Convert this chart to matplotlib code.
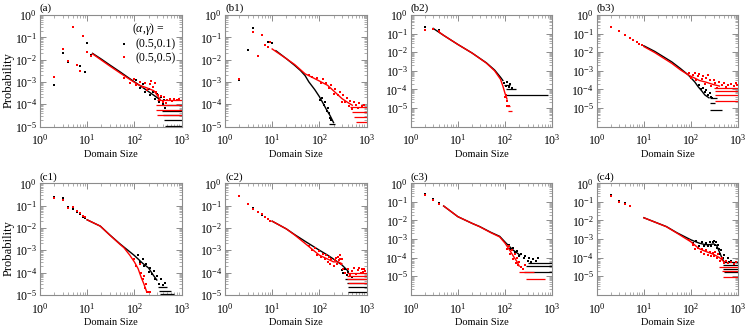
import matplotlib
matplotlib.use("Agg")
import matplotlib.pyplot as plt
from matplotlib.lines import Line2D
from matplotlib.ticker import LogLocator, NullFormatter

plt.rcParams['font.family'] = ['Liberation Serif', 'DejaVu Serif']
plt.rcParams['mathtext.fontset'] = 'custom'
plt.rcParams['mathtext.rm'] = 'Liberation Serif'
plt.rcParams['mathtext.it'] = 'Liberation Serif:italic'

# ---- data: (size, probability) points, trend lines, tail bands (level, from, to)
a_black_dots = [(2, 7e-4), (3, 1.9e-2), (4, 7.5e-3), (7, 5e-3), (9, 2.8e-3), (10, 5.3e-2), (12, 1.6e-2),
                (110, 1.2e-3), (130, 5.5e-4), (150, 8e-4), (170, 3.5e-4), (200, 5e-4), (220, 2.6e-4),
                (250, 3.6e-4), (280, 1.8e-4), (300, 2.8e-4), (330, 1.2e-4), (360, 2.2e-4), (400, 1e-4),
                (420, 1.6e-4), (450, 7e-5), (480, 1.1e-4)]
a_black_line = [(13, 1.9e-2), (20, 1.05e-2), (30, 5.8e-3), (50, 2.8e-3), (80, 1.4e-3), (120, 7.8e-4),
                (180, 4.3e-4), (260, 2.5e-4), (350, 1.6e-4)]
a_black_bands = [(8.9e-5, 400, 1000), (5.2e-5, 380, 1000), (3.2e-5, 400, 1000), (2e-5, 430, 1000),
                 (1.1e-5, 450, 1000)]
a_red_dots = [(2, 1.6e-3), (3, 3e-2), (4, 9e-3), (5, 0.3), (6, 5.5e-3), (7, 3e-3), (8, 0.11), (10, 2.2e-2),
              (12, 1.4e-2), (60, 1.5e-3), (80, 9e-4), (100, 1.4e-3), (110, 7e-4), (130, 1e-3), (150, 6e-4),
              (170, 9e-4), (190, 4.5e-4), (210, 8e-4), (230, 1.1e-3), (250, 6e-4), (270, 9e-4), (290, 3.5e-4),
              (310, 2.5e-4), (330, 1.5e-4), (370, 2.3e-4), (400, 1.3e-4), (430, 2e-4), (460, 1.1e-4),
              (500, 1.6e-4), (560, 1.8e-4), (620, 1.4e-4), (700, 1.8e-4), (800, 1.5e-4), (900, 1.7e-4)]
a_red_line = [(13, 1.8e-2), (20, 9.5e-3), (30, 5.2e-3), (50, 2.5e-3), (80, 1.3e-3), (120, 7.5e-4),
              (180, 5.5e-4), (260, 4e-4), (350, 1.7e-4)]
a_red_bands = [(1.5e-4, 300, 1000), (9e-5, 290, 1000), (5.3e-5, 290, 1000), (3.2e-5, 300, 1000)]

b1_black_dots = [(2, 1.2e-3), (3, 2.6e-2), (4, 0.25), (8, 6e-2), (10, 5.3e-2),
                 (105, 1.6e-4), (115, 1.9e-4), (125, 9e-5), (135, 1.2e-4), (145, 5e-5), (150, 7e-5),
                 (160, 4e-5), (165, 2.5e-5), (175, 2e-5)]
b1_black_line = [(12, 2.5e-2), (20, 1.1e-2), (30, 5.5e-3), (40, 3.2e-3), (50, 1.9e-3), (60, 1e-3),
                 (80, 4.5e-4), (100, 2.2e-4), (120, 1.1e-4), (140, 6e-5), (170, 3e-5), (200, 1.5e-5)]
b1_black_bands = [(1.3e-5, 160, 210)]
b1_red_dots = [(2, 1.4e-3), (4, 0.18), (5, 1.4e-2), (6, 0.125), (7, 4.5e-2), (8, 3.5e-2), (9, 6.3e-2),
               (60, 2e-3), (70, 1.6e-3), (90, 1.5e-3), (110, 9e-4), (120, 1.3e-3), (140, 9e-4), (160, 5.5e-4),
               (180, 7e-4), (200, 3e-4), (220, 5e-4), (250, 2.5e-4), (270, 3.5e-4), (300, 1.3e-4),
               (320, 2.5e-4), (350, 1.2e-4), (380, 1.9e-4), (420, 8e-5), (450, 1.4e-4), (500, 6e-5),
               (550, 1.2e-4), (600, 9e-5), (650, 7e-5), (700, 1.1e-4), (800, 8e-5), (900, 9e-5)]
b1_red_line = [(10, 3e-2), (20, 1.1e-2), (30, 6e-3), (50, 2.3e-3), (80, 1.4e-3), (100, 1.1e-3),
               (150, 7e-4), (200, 4e-4), (300, 1.8e-4), (400, 1.2e-4), (500, 9e-5)]
b1_red_bands = [(7.5e-5, 450, 1000), (4.5e-5, 500, 1000), (2.7e-5, 550, 1000), (1.6e-5, 600, 1000)]

b2_black_dots = [(2, 0.24), (4, 0.16), (95, 2.2e-4), (105, 1.5e-4), (110, 2.5e-4), (120, 1.4e-4),
                 (130, 2e-4), (140, 1.2e-4)]
b2_black_line = [(3, 0.19), (5, 0.08), (10, 2.6e-2), (20, 9e-3), (40, 2.7e-3), (60, 1.1e-3),
                 (80, 4.5e-4), (90, 3e-4)]
b2_black_bands = [(1.8e-4, 95, 130), (1e-4, 105, 170), (5.2e-5, 100, 800)]
b2_red_dots = [(2, 0.15), (3, 0.17), (4, 0.13), (100, 4e-5), (105, 5e-5), (110, 2.5e-5), (112, 1.3e-5),
               (118, 1.3e-5), (122, 1.2e-5)]
b2_red_line = [(4, 0.12), (5, 0.08), (10, 2.6e-2), (20, 9e-3), (40, 2.6e-3), (60, 1e-3), (80, 3.5e-4),
               (90, 1.5e-4), (100, 6e-5), (110, 3e-5)]
b2_red_bands = [(1.3e-5, 110, 130), (6.8e-6, 115, 140)]

b3_black_dots = [(150, 1.8e-4), (160, 1e-4), (180, 1.2e-4), (200, 7e-5), (210, 9e-5), (230, 5e-5),
                 (250, 6e-5), (260, 4e-5), (280, 3.5e-5)]
b3_black_line = [(10, 2.2e-2), (17, 1.1e-2), (39, 3e-3), (60, 1.3e-3), (87, 6e-4), (120, 2.5e-4),
                 (141, 1.4e-4), (170, 8e-5), (196, 5e-5), (240, 3.5e-5)]
b3_black_bands = [(3.4e-5, 250, 350), (1.9e-5, 250, 330), (8e-6, 250, 450)]
b3_red_dots = [(2, 0.24), (3, 0.13), (4, 8.5e-2), (5, 6e-2), (6, 4.5e-2), (7, 3.5e-2), (8, 2.8e-2),
               (9, 2.3e-2), (90, 8e-4), (100, 4e-4), (110, 6e-4), (120, 8e-4), (130, 3e-4), (140, 5e-4),
               (150, 7e-4), (170, 3.5e-4), (180, 5.5e-4), (200, 2e-4), (210, 4e-4), (230, 6e-4),
               (250, 3e-4), (270, 1.6e-4), (300, 3e-4), (330, 2.2e-4), (360, 1.2e-4), (400, 2.5e-4),
               (450, 1.8e-4), (500, 2.2e-4), (550, 1.3e-4), (600, 1.8e-4), (700, 2e-4), (800, 1.5e-4),
               (900, 2.3e-4), (950, 1.7e-4)]
b3_red_line = [(10, 2e-2), (17, 9.5e-3), (39, 2.5e-3), (60, 1.1e-3), (87, 6e-4), (120, 4e-4),
               (150, 3e-4), (200, 2.5e-4), (300, 1.8e-4), (400, 1.5e-4)]
b3_red_bands = [(1.2e-4, 300, 1000), (7.7e-5, 320, 1000), (4.8e-5, 320, 1000), (2.3e-5, 330, 1000)]

c1_black_dots = [(2, 0.25), (3, 0.22), (4, 9e-2), (5, 7e-2), (6, 5e-2), (7, 4e-2), (8, 3.2e-2), (9, 2.7e-2),
                 (120, 6e-4), (130, 3e-4), (150, 4e-4), (160, 2e-4), (180, 2.5e-4), (200, 1.1e-4),
                 (220, 1.6e-4), (240, 9e-5), (260, 1.2e-4), (280, 5e-5), (300, 7e-5), (330, 3e-5),
                 (360, 5e-5), (400, 2.8e-5), (450, 3.5e-5)]
c1_black_line = [(10, 2.3e-2), (19, 1.2e-2), (30, 4.9e-3), (50, 1.9e-3), (100, 5.8e-4), (150, 2.6e-4),
                 (200, 1.6e-4), (250, 7.8e-5), (300, 4.6e-5)]
c1_black_bands = [(2.3e-5, 320, 500), (1.5e-5, 330, 600), (1.05e-5, 350, 700)]
c1_red_dots = [(2, 0.21), (3, 0.18), (4, 8e-2), (5, 9e-2), (6, 5.5e-2), (7, 4.5e-2), (8, 3.5e-2), (9, 3e-2),
               (100, 4e-4), (110, 2e-4), (130, 2.5e-4), (140, 1e-4), (150, 5e-5), (160, 7e-5), (170, 2e-5),
               (180, 3e-5), (190, 1.4e-5), (200, 1.3e-5), (210, 1.4e-5)]
c1_red_line = [(10, 2.3e-2), (19, 1.2e-2), (30, 4.8e-3), (50, 1.8e-3), (60, 1.3e-3), (80, 6e-4),
               (100, 3e-4), (120, 1.5e-4), (140, 6e-5), (160, 3e-5), (180, 1.5e-5)]
c1_red_bands = []

c2_black_dots = [(2, 0.28), (3, 0.12), (4, 7.5e-2), (5, 5e-2), (6, 3.8e-2), (7, 3e-2), (8, 2.4e-2), (9, 2e-2),
                 (300, 1.3e-4), (320, 1e-4), (350, 1.4e-4), (380, 8e-5), (400, 1.1e-4), (450, 7e-5),
                 (500, 6e-5)]
c2_black_line = [(10, 2e-2), (20, 9e-3), (30, 5e-3), (50, 2.5e-3), (100, 1e-3), (150, 6e-4), (200, 4e-4),
                 (300, 2.2e-4), (400, 1.2e-4)]
c2_black_bands = [(5e-5, 350, 1000), (3.3e-5, 380, 1000), (2.2e-5, 400, 1000), (1.3e-5, 400, 1000)]
c2_red_dots = [(2, 0.26), (3, 0.12), (4, 7e-2), (5, 5e-2), (6, 4e-2), (7, 3.1e-2), (8, 2.5e-2), (9, 2.1e-2),
               (60, 1.5e-3), (70, 1e-3), (80, 1.3e-3), (90, 6e-4), (100, 9e-4), (110, 5e-4), (120, 7e-4),
               (130, 4e-4), (140, 6e-4), (150, 3e-4), (160, 5e-4), (170, 2.5e-4), (180, 4e-4), (200, 2e-4),
               (210, 3.5e-4), (230, 4.5e-4), (240, 2.5e-4), (250, 5e-4), (260, 3.5e-4), (270, 6e-4),
               (280, 4e-4), (290, 2.5e-4), (300, 4e-4), (320, 1.5e-4), (350, 1e-4), (400, 1.4e-4),
               (450, 8e-5), (500, 1.2e-4), (550, 1.6e-4), (600, 9e-5), (650, 1.3e-4), (700, 1.6e-4),
               (750, 1e-4), (800, 1.4e-4), (850, 1.1e-4), (900, 1.5e-4), (950, 1.2e-4)]
c2_red_line = [(10, 2e-2), (20, 9e-3), (30, 4.8e-3), (50, 2e-3), (100, 6e-4), (150, 4e-4), (200, 3e-4),
               (250, 3e-4), (300, 2.5e-4)]
c2_red_bands = [(1e-4, 380, 1000), (7e-5, 380, 1000), (5e-5, 380, 1000), (3.5e-5, 400, 1000)]

c3_black_dots = [(2, 0.26), (3, 0.14), (4, 8.4e-2), (120, 5e-4), (130, 3e-4), (150, 3.5e-4), (160, 2e-4),
                 (180, 2.4e-4), (200, 1.2e-4), (220, 1.6e-4), (250, 9e-5), (270, 1.2e-4), (300, 7e-5),
                 (330, 1e-4), (360, 6e-5), (400, 8e-5), (450, 7e-5), (500, 9e-5)]
c3_black_line = [(5, 6e-2), (10, 1.6e-2), (20, 7e-3), (29, 4.7e-3), (50, 2.3e-3), (77, 1.4e-3),
                 (106, 5.9e-4), (147, 2.6e-4), (205, 1.4e-4)]
c3_black_bands = [(5.4e-5, 300, 1000), (3.4e-5, 280, 1000), (1.7e-5, 250, 1000)]
c3_red_dots = [(2, 0.24), (3, 0.13), (4, 8e-2), (110, 3e-4), (120, 4e-4), (130, 1.6e-4), (140, 2.5e-4),
               (150, 8e-5), (160, 1.5e-4), (170, 5e-5), (180, 9e-5), (190, 4e-5), (200, 6e-5), (220, 3e-5),
               (240, 2.5e-5), (260, 4e-5)]
c3_red_line = [(5, 6e-2), (10, 1.6e-2), (20, 7e-3), (29, 4.6e-3), (50, 2.2e-3), (77, 1.3e-3),
               (100, 6e-4), (130, 2.2e-4), (150, 1.2e-4), (180, 6e-5), (200, 3.5e-5)]
c3_red_bands = [(1.7e-5, 200, 420), (7.3e-6, 280, 700)]

c4_black_dots = [(2, 0.24), (3, 0.11), (4, 8.4e-2), (5, 6e-2),
                 (110, 6e-4), (130, 8e-4), (150, 4e-4), (170, 7e-4), (190, 4e-4), (210, 6.5e-4), (230, 4e-4),
                 (250, 7e-4), (270, 4e-4), (290, 7e-4), (300, 8e-4), (320, 5e-4), (340, 7e-4), (360, 3.5e-4),
                 (380, 5e-4), (400, 3e-4), (420, 1.5e-4), (440, 2.5e-4), (470, 1e-4), (500, 1.4e-4),
                 (550, 7e-5), (600, 9e-5), (650, 6e-5), (700, 7e-5)]
c4_black_line = [(10, 1.4e-2), (30, 4.7e-3), (50, 2.2e-3), (100, 9e-4), (150, 6e-4), (200, 5e-4),
                 (250, 5e-4), (300, 5.5e-4), (350, 4.5e-4), (400, 2e-4), (450, 1e-4), (500, 6e-5)]
c4_black_bands = [(6e-5, 500, 1000), (4e-5, 480, 1000), (2.5e-5, 480, 1000), (1.7e-5, 500, 1000)]
c4_red_dots = [(2, 0.22), (3, 0.1), (4, 8e-2), (5, 6e-2),
               (90, 9e-4), (110, 5e-4), (120, 3e-4), (140, 3.5e-4), (160, 2e-4), (170, 2.8e-4), (190, 1.6e-4),
               (210, 2.5e-4), (230, 1.4e-4), (250, 2e-4), (270, 1.2e-4), (290, 1.8e-4), (310, 1.3e-4),
               (330, 2e-4), (350, 1e-4), (380, 1.5e-4), (420, 7e-5), (460, 1e-4), (500, 5e-5), (560, 7e-5),
               (620, 5e-5), (700, 6e-5), (800, 4.5e-5), (900, 5.5e-5)]
c4_red_line = [(10, 1.4e-2), (30, 4.6e-3), (50, 2.1e-3), (100, 7e-4), (130, 4e-4), (150, 3e-4),
               (200, 2.2e-4), (300, 1.5e-4), (400, 1e-4), (500, 6e-5)]
c4_red_bands = [(3.3e-5, 400, 1000), (2e-5, 450, 1000), (9e-6, 480, 1000)]

panel_names = ['(a)', '(b1)', '(b2)', '(b3)', '(c1)', '(c2)', '(c3)', '(c4)']
y_bottoms = [1e-5, 1e-5, 1e-6, 1e-6, 1e-5, 1e-5, 1e-6, 1e-6]
legend_labels = ['(0.5,0.1)', '(0.5,0.5)']

panel_data = [
    (a_black_dots, a_black_line, a_black_bands, a_red_dots, a_red_line, a_red_bands),
    (b1_black_dots, b1_black_line, b1_black_bands, b1_red_dots, b1_red_line, b1_red_bands),
    (b2_black_dots, b2_black_line, b2_black_bands, b2_red_dots, b2_red_line, b2_red_bands),
    (b3_black_dots, b3_black_line, b3_black_bands, b3_red_dots, b3_red_line, b3_red_bands),
    (c1_black_dots, c1_black_line, c1_black_bands, c1_red_dots, c1_red_line, c1_red_bands),
    (c2_black_dots, c2_black_line, c2_black_bands, c2_red_dots, c2_red_line, c2_red_bands),
    (c3_black_dots, c3_black_line, c3_black_bands, c3_red_dots, c3_red_line, c3_red_bands),
    (c4_black_dots, c4_black_line, c4_black_bands, c4_red_dots, c4_red_line, c4_red_bands),
]

W, H = 747, 332
lefts = [40, 225, 410.7, 596.7]
tops = [15, 183.3]
aw, ah = 141.5, 111.5
frame = '#8c8c8c'


def draw_series(ax, dots, line, bands, color):
    if line:
        lx, ly = zip(*line)
        ax.plot(lx, ly, '-', color=color, lw=1.0)
    if dots:
        dx, dy = zip(*dots)
        ax.plot(dx, dy, 's', ms=1.5, mew=0, color=color)
    for lev, x0, x1 in bands:
        ax.hlines(lev, x0, x1, color=color, lw=0.9)


fig = plt.figure(figsize=(W / 100, H / 100), dpi=100)

for i, (name, ymin, data) in enumerate(zip(panel_names, y_bottoms, panel_data)):
    row, col = divmod(i, 4)
    ax = fig.add_axes([lefts[col] / W, 1 - (tops[row] + ah) / H, aw / W, ah / H])
    ax.set_xscale('log')
    ax.set_yscale('log')

    kd, kl, kb, rd, rl, rb = data
    draw_series(ax, kd, kl, kb, 'black')
    draw_series(ax, rd, rl, rb, 'red')

    ax.set_xticks([1, 10, 100, 1000])
    ax.set_yticks([1e-5, 1e-4, 1e-3, 1e-2, 1e-1, 1])
    ax.xaxis.set_minor_locator(LogLocator(base=10, subs=range(2, 10), numticks=20))
    ax.yaxis.set_minor_locator(LogLocator(base=10, subs=range(2, 10), numticks=20))
    ax.xaxis.set_minor_formatter(NullFormatter())
    ax.yaxis.set_minor_formatter(NullFormatter())
    ax.set_xlim(1, 1000)
    ax.set_ylim(ymin, 1)

    ax.tick_params(which='both', direction='in', top=True, right=True, color=frame, labelsize=8.5)
    ax.tick_params(axis='x', which='major', pad=5)
    ax.tick_params(axis='y', which='major', pad=2)
    ax.tick_params(which='major', length=4, width=0.7)
    ax.tick_params(which='minor', length=2, width=0.5)
    for sp in ax.spines.values():
        sp.set_color(frame)
        sp.set_linewidth(0.8)

    ax.set_xlabel('Domain Size', fontsize=7.5)
    ax.xaxis.set_label_coords(0.5, -0.21)
    if col == 0:
        ax.set_ylabel('Probability', fontsize=9)
        ax.yaxis.set_label_coords(-0.18, 0.42)
    ax.text(0.0, 1.015, name, transform=ax.transAxes, ha='left', va='bottom', fontsize=8)

    if i == 0:
        handles = [Line2D([], [], ls='none', marker='s', ms=1.5, mew=0, color=c) for c in ('black', 'red')]
        ax.legend(handles, legend_labels, title='($\\alpha$,$\\gamma$) =', loc='upper right',
                  frameon=False, fontsize=8.5, title_fontsize=8.5, handlelength=0.6,
                  handletextpad=0.7, borderaxespad=0.3, labelspacing=0.15, borderpad=0.2)

fig.savefig('out.png', dpi=100)
